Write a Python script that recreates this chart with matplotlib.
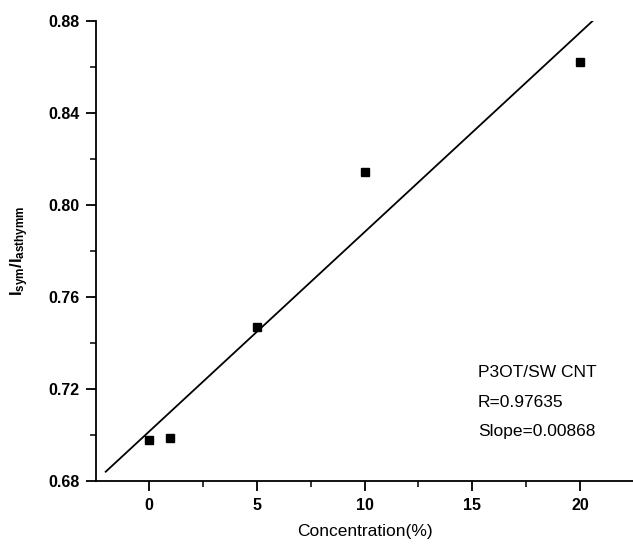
import numpy as np
import matplotlib.pyplot as plt
from matplotlib.ticker import MultipleLocator

# Datos
conc = [0, 1, 5, 10, 20]                    # Concentration (%)
ratio = [0.6977, 0.6985, 0.747, 0.8143, 0.862]  # I_sym / I_asthymm
xticks = [0, 5, 10, 15, 20]
yticks = [0.68, 0.72, 0.76, 0.80, 0.84, 0.88]
note_lines = ["P3OT/SW CNT", "R=0.97635", "Slope=0.00868"]

plt.rcParams["font.family"] = ["Liberation Sans", "DejaVu Sans"]

fig = plt.figure(figsize=(6.33, 5.51), dpi=100)
ax = fig.add_axes([96 / 633, 1 - 481 / 551, 1 - 96 / 633, (481 - 21) / 551])

# Ajuste lineal
slope, inter = np.polyfit(conc, ratio, 1)
xfit = np.array([-2.0, 20.6])
ax.plot(xfit, slope * xfit + inter, color="black", lw=1.3)

ax.plot(conc, ratio, "s", color="black", markersize=5.5)

ax.set_xlim(-2.45, 22.45)
ax.set_ylim(0.68, 0.88)
ax.set_xticks(xticks)
ax.set_yticks(yticks)
ax.set_yticklabels([f"{v:.2f}" for v in yticks])
ax.xaxis.set_minor_locator(MultipleLocator(2.5))
ax.yaxis.set_minor_locator(MultipleLocator(0.02))

for s in ["top", "right"]:
    ax.spines[s].set_visible(False)
for s in ["left", "bottom"]:
    ax.spines[s].set_linewidth(1.3)

ax.tick_params(which="major", direction="out", length=7, width=1.3, pad=5,
               labelsize=11.5)
ax.tick_params(which="minor", direction="out", length=4, width=1.1)
for lab in ax.get_xticklabels() + ax.get_yticklabels():
    lab.set_fontweight("bold")

ax.set_xlabel("Concentration(%)", fontsize=12.5, labelpad=8)
ax.set_ylabel(r"$\mathregular{I_{sym}/I_{asthymm}}$", fontsize=12,
              fontweight="bold", labelpad=12)

for i, t in enumerate(note_lines):
    ax.text(0.711, 0.235 - i * 0.064, t, transform=ax.transAxes,
            fontsize=12.5, ha="left", va="center")

fig.savefig("out.png", dpi=100)
